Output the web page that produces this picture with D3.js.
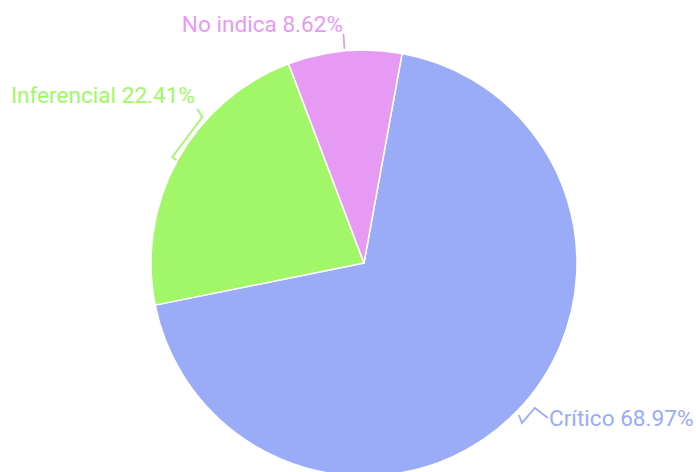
<!DOCTYPE html>
<html><head><meta charset="utf-8">
<script src="https://cdn.jsdelivr.net/npm/d3@7"></script>
<style>html,body{margin:0;padding:0;background:#fff;}svg{display:block;}</style>
</head><body>
<svg id="c" width="696" height="472"></svg>
<script>
const categories = ["Crítico", "Inferencial", "No indica"];
const values = [68.97, 22.41, 8.62];
const labels = ["Crítico 68.97%", "Inferencial 22.41%", "No indica 8.62%"];
const colors = ["#9aabf8", "#a1f767", "#e69af3"];

const svg = d3.select("#c");
const cx = 364, cy = 263, R = 213;
const startDeg = 10.3;
const pie = d3.pie().sort(null).value(d => d)
  .startAngle(startDeg * Math.PI / 180)
  .endAngle((startDeg + 360) * Math.PI / 180);
const arcs = pie(values);
const arc = d3.arc().innerRadius(0).outerRadius(R);
const g = svg.append("g").attr("transform", `translate(${cx},${cy})`);
g.selectAll("path.slice").data(arcs).enter().append("path")
  .attr("class", "slice")
  .attr("d", arc)
  .attr("fill", (d, i) => colors[i])
  .attr("stroke", "#fff").attr("stroke-width", 1.5).attr("stroke-linejoin", "round");

function pt(a, r) { return [Math.sin(a) * r, -Math.cos(a) * r]; }
const lineDefs = [
  (d) => { const p = pt((d.startAngle + d.endAngle) / 2, R + 4); return [p, [p[0] + 3, p[1] + 8], [p[0] + 16, p[1] - 7], [p[0] + 29, p[1] + 3]]; },
  (d) => { const p = pt((d.startAngle + d.endAngle) / 2, R + 6); return [[p[0] + 4, p[1] + 3], p, [p[0] + 30, p[1] - 40], [p[0] + 25, p[1] - 48]]; },
  (d) => { const p = pt((d.startAngle + d.endAngle) / 2, R + 2); return [[p[0], p[1]], [p[0] - 1, p[1] - 15]]; }
];
const line = d3.line();
arcs.forEach((d, i) => {
  const pts = lineDefs[i](d);
  g.append("path").attr("d", line(pts)).attr("fill", "none")
    .attr("stroke", colors[i]).attr("stroke-width", 1.8).attr("stroke-linejoin", "miter");
});

const textPos = [
  { x: 549, y: 426, anchor: "start" },
  { x: 195, y: 103, anchor: "end" },
  { x: 343, y: 32, anchor: "end" }
];
svg.selectAll("text.lbl").data(labels).enter().append("text")
  .attr("class", "lbl")
  .attr("x", (d, i) => textPos[i].x).attr("y", (d, i) => textPos[i].y)
  .attr("text-anchor", (d, i) => textPos[i].anchor)
  .attr("fill", (d, i) => colors[i])
  .attr("font-family", "Roboto, sans-serif").attr("font-size", 22.6)
  .text(d => d);
</script>
</body></html>
